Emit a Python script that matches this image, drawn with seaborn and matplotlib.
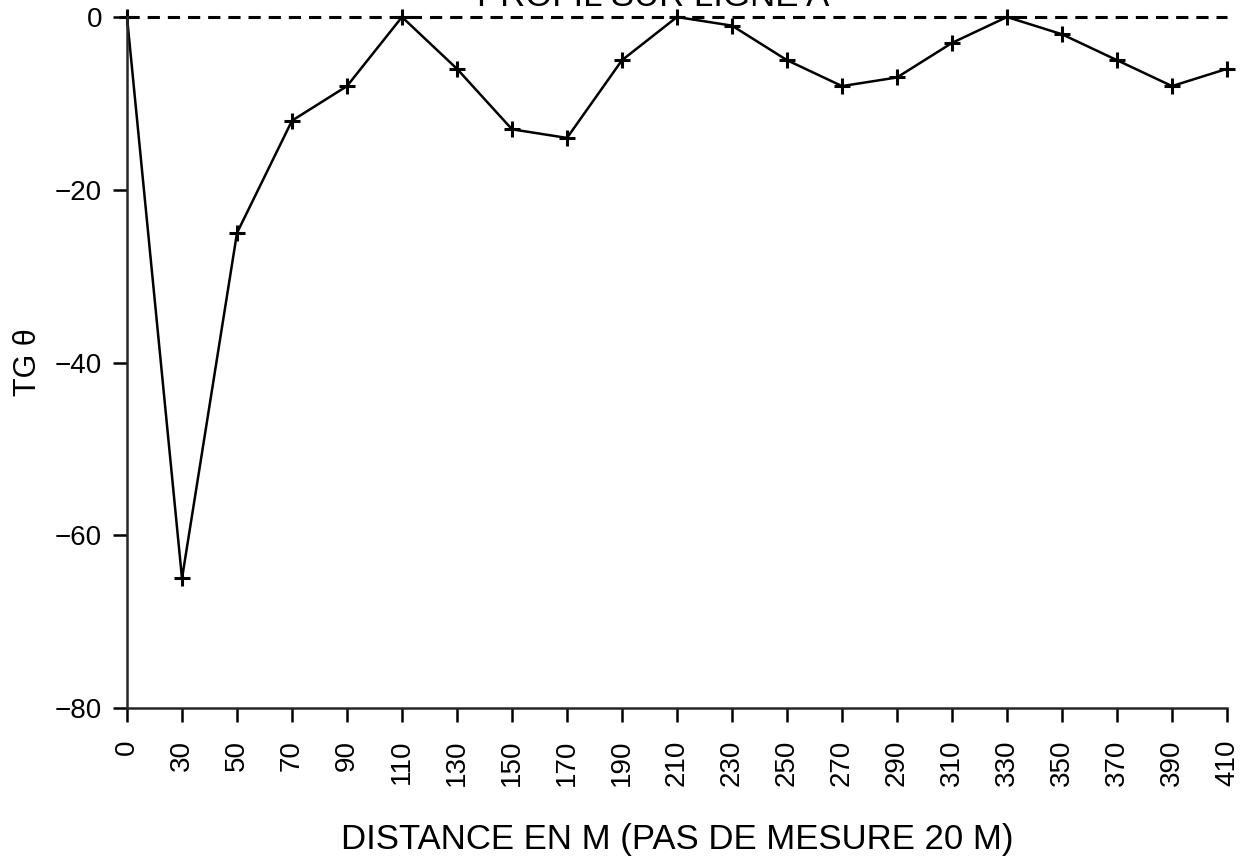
import matplotlib
matplotlib.use("Agg")
import matplotlib.pyplot as plt
import seaborn as sns
import pandas as pd

# Measurement stations along the profile (m) and tangent values
distance = ["0", "30", "50", "70", "90", "110", "130", "150", "170", "190", "210",
            "230", "250", "270", "290", "310", "330", "350", "370", "390", "410"]
tg_theta = [0, -65, -25, -12, -8, 0, -6, -13, -14, -5, 0,
            -1, -5, -8, -7, -3, 0, -2, -5, -8, -6]

df = pd.DataFrame({"distance": distance, "tg": tg_theta})

sns.set_style("ticks")
plt.rcParams["font.family"] = ["Liberation Sans", "DejaVu Sans"]
plt.rcParams["text.color"] = "black"
plt.rcParams["axes.labelcolor"] = "black"
plt.rcParams["xtick.color"] = "black"
plt.rcParams["ytick.color"] = "black"

W, H = 1244, 859
fig = plt.figure(figsize=(W / 100, H / 100), dpi=100)
left, right, top, bottom = 127, 1227, 17, 708
ax = fig.add_axes([left / W, 1 - bottom / H, (right - left) / W, (bottom - top) / H])

sns.pointplot(data=df, x="distance", y="tg", order=distance, color="black",
              marker="+", markersize=12, markeredgewidth=2.2, linewidth=1.8,
              errorbar=None, ax=ax)

# zero reference line
ax.axhline(0, color="black", linestyle=(0, (4, 2.6)), linewidth=2.2, zorder=1)

for ln in ax.lines:
    ln.set_clip_on(False)

ax.set_xlim(0, len(distance) - 1)
ax.set_ylim(-80, 0)
ax.set_yticks([0, -20, -40, -60, -80])
ax.set_yticklabels(["0", "\u221220", "\u221240", "\u221260", "\u221280"])

sns.despine(ax=ax, top=True, right=True)
ax.spines["left"].set_linewidth(1.8)
ax.spines["bottom"].set_linewidth(1.8)
ax.tick_params(axis="both", direction="out", length=10, width=1.8,
               color="black", labelsize=20)
ax.tick_params(axis="y", pad=8)
ax.tick_params(axis="x", labelrotation=90, pad=13)

ax.set_xlabel("DISTANCE EN M (PAS DE MESURE 20 M)", fontsize=25, labelpad=26)
ax.set_ylabel("TG \u03b8", fontsize=22)
ax.yaxis.set_label_coords(-84 / (right - left), 0.5)

# heading sits at the very top edge of the sheet
fig.text(653 / W, 1 - 13 / H, "PROFIL SUR LIGNE A", ha="center", va="bottom",
         fontsize=25)

fig.savefig("out.png", dpi=100, facecolor="white")
